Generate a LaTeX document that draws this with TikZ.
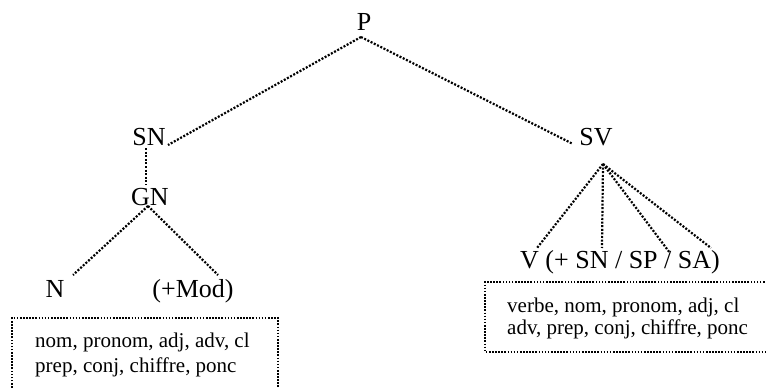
\documentclass[tikz,border=0pt]{standalone}
\usepackage{fontspec}
\setmainfont{Liberation Serif}
\begin{document}
\begin{tikzpicture}[x=1pt,y=-1pt,
  lbl/.style={font=\fontsize{26}{30}\selectfont, inner sep=0pt, anchor=base},
  boxtext/.style={font=\fontsize{21}{25}\selectfont, inner sep=0pt, anchor=base west},
  treeline/.style={line width=2.2pt, dash pattern=on 2pt off 1.6pt, line cap=butt},
  dotbox/.style={line width=1.7pt, dash pattern=on 1.6pt off 1.5pt}]
\useasboundingbox (0,0) rectangle (766,388);
\clip (0,0) rectangle (766,388);
% labels
\node[lbl] (P) at (364,30) {P};
\node[lbl] (SN) at (149,145) {SN};
\node[lbl] (SV) at (596,145) {SV};
\node[lbl] (GN) at (150,205) {GN};
\node[lbl] (N) at (55,297) {N};
\node[lbl] (Mod) at (193,297) {(+Mod)};
\node[lbl, anchor=base west] (V) at (520,268) {V (+ SN / SP / SA)};
% connector ends
\coordinate (pA) at (361,37);
\coordinate (snR) at (168,145);
\coordinate (svL) at (573,144);
\coordinate (snB) at (146,148);
\coordinate (gnT) at (146,185);
\coordinate (gnB) at (148,206);
\coordinate (nT) at (73,275);
\coordinate (modT) at (218,275);
\coordinate (svB) at (603,164);
\coordinate (v1) at (537,248);
\coordinate (v2) at (602,248);
\coordinate (v3) at (670,253);
\coordinate (v4) at (711,248);
% tree lines
\draw[treeline] (pA) -- (snR);
\draw[treeline] (pA) -- (svL);
\draw[treeline] (snB) -- (gnT);
\draw[treeline] (gnB) -- (nT);
\draw[treeline] (gnB) -- (modT);
\draw[treeline] (svB) -- (v1);
\draw[treeline] (svB) -- (v2);
\draw[treeline] (svB) -- (v3);
\draw[treeline] (svB) -- (v4);
% boxes
\draw[dotbox] (12,400) -- (12,318) -- (278,318) -- (278,400);
\node[boxtext] (l1) at (35,347) {nom, pronom, adj, adv, cl};
\node[boxtext] (l2) at (35,372) {prep, conj, chiffre, ponc};
\draw[dotbox] (780,282) -- (485,282) -- (485,352) -- (780,352);
\node[boxtext] (r1) at (507,312) {verbe, nom, pronom, adj, cl};
\node[boxtext] (r2) at (507,334) {adv, prep, conj, chiffre, ponc};
\end{tikzpicture}
\end{document}
